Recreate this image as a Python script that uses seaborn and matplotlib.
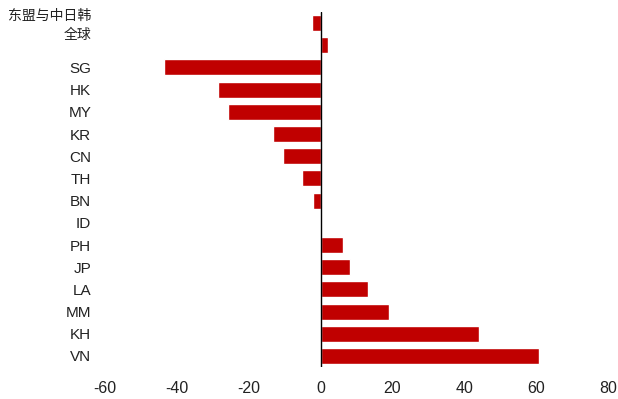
import matplotlib
matplotlib.use("Agg")
import matplotlib.pyplot as plt
import matplotlib.transforms as mtransforms
import seaborn as sns
import pandas as pd

# Regions / economies, top to bottom
categories = ["东盟与中日韩", "全球", "SG", "HK", "MY", "KR", "CN", "TH", "BN",
              "ID", "PH", "JP", "LA", "MM", "KH", "VN"]
values = [-2.5, 2.0, -43.7, -28.6, -25.8, -13.4, -10.4, -5.3, -2.0,
          0.0, 6.2, 8.1, 13.2, 19.0, 44.0, 60.8]
x_ticks = [-60, -40, -20, 0, 20, 40, 60, 80]

df = pd.DataFrame({"region": categories, "value": values})

sns.set_theme(style="white")
plt.rcParams["font.family"] = ["Liberation Sans", "Noto Sans CJK SC", "DejaVu Sans"]

fig = plt.figure(figsize=(6.18, 3.99), dpi=100)
ax = fig.add_axes([0.170, 0.080, 0.814, 0.890])

sns.barplot(data=df, x="value", y="region", orient="h", color="#C00000",
            saturation=1, width=0.72, ax=ax)

ax.set_xlim(-60, 80)
ax.set_ylim(15.5, -0.5)
ax.set_xticks(x_ticks)
ax.set_xticklabels([str(t) for t in x_ticks])
ax.set_xlabel("")
ax.set_ylabel("")

for s in ax.spines.values():
    s.set_visible(False)
ax.axvline(0, color="black", lw=1.0, zorder=3)

ax.tick_params(axis="x", length=0, pad=10, labelsize=11.5, labelcolor="#222222")
ax.tick_params(axis="y", length=0, pad=10, labelsize=11, labelcolor="#222222")

# Chinese labels sit a little higher than their bars
shifts = {"东盟与中日韩": 6, "全球": 8.5}
for lab in ax.get_yticklabels():
    txt = lab.get_text()
    if txt in shifts:
        lab.set_fontfamily(["Noto Sans CJK SC", "DejaVu Sans"])
        lab.set_fontsize(10)
        offset = mtransforms.ScaledTranslation(0, shifts[txt] / 72, fig.dpi_scale_trans)
        lab.set_transform(lab.get_transform() + offset)

fig.savefig("out.png", dpi=100, facecolor="white")
